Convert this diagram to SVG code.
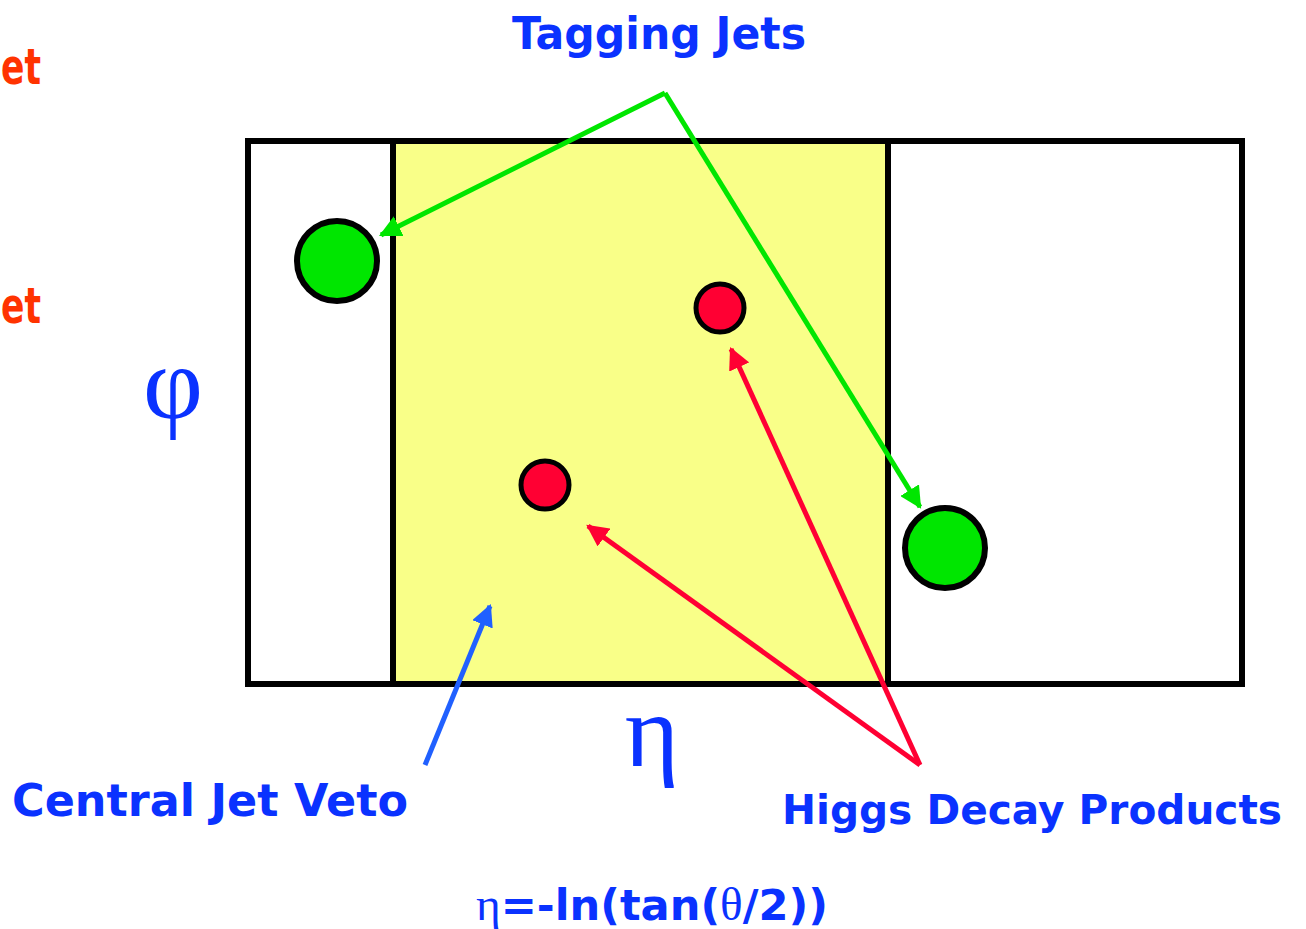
<svg xmlns="http://www.w3.org/2000/svg" width="1306" height="929" viewBox="0 0 1306 929">
<style>
.lbl{font-family:"Comic Sans MS","DejaVu Sans","Liberation Sans",sans-serif;font-weight:bold;fill:#0A32FF}
.gr{font-family:"Liberation Serif","DejaVu Serif",serif;fill:#0A32FF}
.red{font-family:"DejaVu Sans","Liberation Sans",sans-serif;font-weight:bold;fill:#FF3300;font-size:50px}
.box{fill:none;stroke:#000;stroke-width:6}
.jet{fill:#00E600;stroke:#000;stroke-width:6}
.hig{fill:#FF0033;stroke:#000;stroke-width:5}
</style>
<defs>
<marker id="ag" viewBox="0 0 10 10" refX="9" refY="5" markerWidth="22" markerHeight="22" orient="auto" markerUnits="userSpaceOnUse"><path d="M0,0 L10,5 L0,10 z" fill="#00E600"/></marker>
<marker id="ar" viewBox="0 0 10 10" refX="9" refY="5" markerWidth="22" markerHeight="22" orient="auto" markerUnits="userSpaceOnUse"><path d="M0,0 L10,5 L0,10 z" fill="#FF0033"/></marker>
<marker id="ab" viewBox="0 0 10 10" refX="9" refY="5" markerWidth="22" markerHeight="22" orient="auto" markerUnits="userSpaceOnUse"><path d="M0,0 L10,5 L0,10 z" fill="#2060FF"/></marker>
</defs>
<rect width="1306" height="929" fill="#fff"/>
<g id="region">
<rect x="393" y="141" width="495" height="543" fill="#F9FF88"/>
<rect class="box" x="248" y="141" width="994" height="543"/>
<line x1="393" y1="141" x2="393" y2="684" stroke="#000" stroke-width="6"/>
<line x1="888" y1="141" x2="888" y2="684" stroke="#000" stroke-width="6"/>
</g>
<g id="jet1"><circle class="jet" cx="337" cy="261" r="40"/></g>
<g id="jet2"><circle class="jet" cx="945" cy="548" r="40"/></g>
<g id="h1"><circle class="hig" cx="720" cy="308" r="24"/></g>
<g id="h2"><circle class="hig" cx="545" cy="485" r="24"/></g>
<g id="connectors">
<path d="M665,93 L381,235" stroke="#00E600" stroke-width="5" fill="none" marker-end="url(#ag)"/>
<path d="M665,93 L920,507" stroke="#00E600" stroke-width="5" fill="none" marker-end="url(#ag)"/>
<path d="M920,765 L588,526" stroke="#FF0033" stroke-width="5" fill="none" marker-end="url(#ar)"/>
<path d="M920,765 L731,349" stroke="#FF0033" stroke-width="5" fill="none" marker-end="url(#ar)"/>
<path d="M425,765 L490,606" stroke="#2060FF" stroke-width="5" fill="none" marker-end="url(#ab)"/>
</g>
<g id="labels">
<text class="red" x="1" y="84" textLength="40" lengthAdjust="spacingAndGlyphs">et</text>
<text class="red" x="1" y="323" textLength="40" lengthAdjust="spacingAndGlyphs">et</text>
<text class="lbl" x="512" y="49" font-size="44" textLength="294" lengthAdjust="spacingAndGlyphs">Tagging Jets</text>
<text class="gr" x="173" y="418" font-size="104" text-anchor="middle">φ</text>
<text class="gr" x="652" y="766" font-size="104" text-anchor="middle">η</text>
<text class="lbl" x="12" y="816" font-size="44" textLength="396" lengthAdjust="spacingAndGlyphs">Central Jet Veto</text>
<text class="lbl" x="782" y="824" font-size="40" textLength="500" lengthAdjust="spacingAndGlyphs">Higgs Decay Products</text>
<text x="476" y="920" font-size="42" textLength="352" lengthAdjust="spacingAndGlyphs"><tspan class="gr" font-size="46">η</tspan><tspan class="lbl">=-ln(tan(</tspan><tspan class="gr" font-size="46">θ</tspan><tspan class="lbl">/2))</tspan></text>
</g>
</svg>
